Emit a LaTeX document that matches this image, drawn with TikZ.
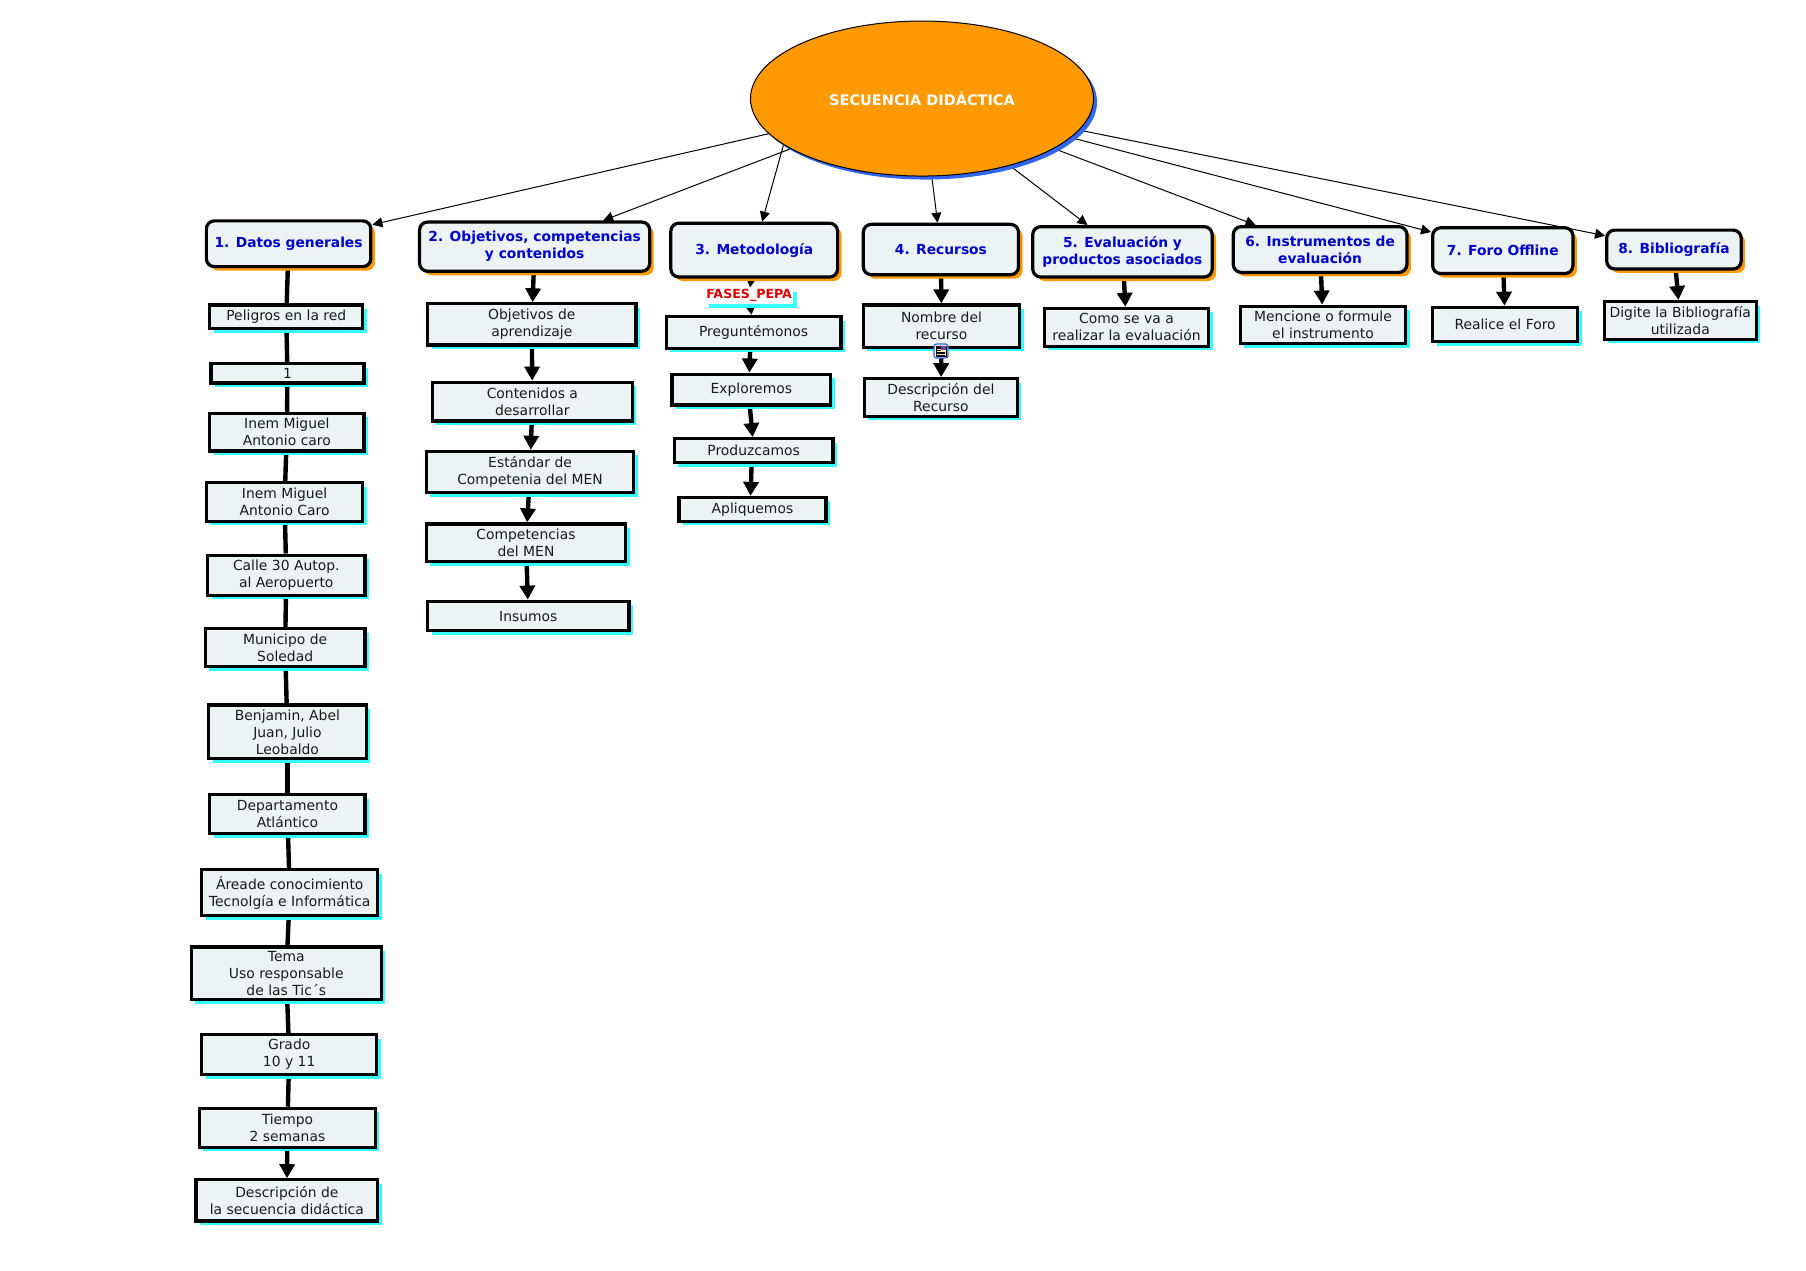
\documentclass[tikz,border=0pt]{standalone}
\usepackage{fontspec}
\setmainfont{DejaVu Sans}
\usetikzlibrary{shapes.geometric,arrows.meta,shadows}
\definecolor{boxfill}{HTML}{ECF3F5}
\definecolor{tealshadow}{HTML}{33FFFF}
\definecolor{orangeshadow}{HTML}{FF9900}
\definecolor{rootblue}{HTML}{3366EE}
\definecolor{headblue}{HTML}{0000CC}
\definecolor{redlabel}{HTML}{DD0000}
\definecolor{inktext}{HTML}{1A1A1A}
\definecolor{iconpage}{HTML}{FFF0A0}
\pgfdeclarelayer{conn}
\pgfsetlayers{conn,main}
\tikzset{
  x=1.1525pt,y=-1.1525pt,
  rootnode/.style={ellipse,draw=black,line width=1pt,fill=orangeshadow,inner sep=0pt,
    general shadow={shadow xshift=3.5pt,shadow yshift=-3.5pt,fill=rootblue},
    text=white,font=\bfseries\fontsize{14.5}{17}\selectfont,align=center},
  headnode/.style={rectangle,rounded corners=8pt,draw=black,line width=3.2pt,fill=boxfill,inner sep=0pt,
    general shadow={shadow xshift=4pt,shadow yshift=-4pt,fill=orangeshadow},
    text=headblue,font=\bfseries\fontsize{13.8}{17}\selectfont,align=center},
  leafnode/.style={rectangle,draw=black,line width=3.2pt,fill=boxfill,inner sep=0pt,
    general shadow={shadow xshift=4pt,shadow yshift=-4pt,fill=tealshadow},
    text=inktext,font=\fontsize{13.9}{17}\selectfont,align=center},
  phaselabel/.style={rectangle,fill=white,inner sep=0pt,
    general shadow={shadow xshift=3.5pt,shadow yshift=-4pt,fill=tealshadow},
    text=redlabel,font=\bfseries\fontsize{12.6}{15}\selectfont},
  thinarrow/.style={draw=black,line width=1pt,-{Triangle[length=10pt,width=10pt]}},
  fatline/.style={draw=black,line width=4.4pt},
  fatarrow/.style={draw=black,line width=4.4pt,-{Triangle[length=14pt,width=15pt]}},
}
\newcommand{\bx}[7][]{\node[#2,minimum width={(#5-#3)*1.1525pt-1.5pt},minimum height={(#6-#4)*1.1525pt-1.5pt}] (#1) at ({(#3+#5)/2-0.6},{(#4+#6)/2}) {#7};}
\begin{document}
\begin{tikzpicture}
\useasboundingbox (0,0) rectangle (1567,1102);
\node[rootnode,minimum width=343pt,minimum height=155pt] (root) at (800,85.5) {SECUENCIA DIDÁCTICA};
\coordinate (rootwest) at (680,125);
% headers
\bx[h1]{headnode}{179}{191}{323}{232}{1. Datos generales}
\bx[h2]{headnode}{364}{192}{565}{236}{2. Objetivos, competencias\\y contenidos}
\bx[h3]{headnode}{582}{193}{728}{241}{3. Metodología}
\bx[h4]{headnode}{749}{194}{885}{239}{4. Recursos}
\bx[h5]{headnode}{896}{196}{1053}{241}{5. Evaluación y\\productos asociados}
\bx[h6]{headnode}{1070}{196}{1222}{237}{6. Instrumentos de\\evaluación}
\bx[h7]{headnode}{1243}{197}{1366}{238}{7. Foro Offline}
\bx[h8]{headnode}{1394}{199}{1512}{234}{8. Bibliografía}
% column 1
\bx[a1]{leafnode}{182}{264}{316}{286}{Peligros en la red}
\bx[a2]{leafnode}{183}{315}{317}{333}{1}
\bx[a3]{leafnode}{182}{358}{317}{392}{Inem Miguel\\Antonio caro}
\bx[a4]{leafnode}{179}{418}{316}{453}{Inem Miguel\\Antonio Caro}
\bx[a5]{leafnode}{180}{481}{318}{517}{Calle 30 Autop.\\al Aeropuerto}
\bx[a6]{leafnode}{178}{545}{318}{579}{Municipo de\\Soledad}
\bx[a7]{leafnode}{181}{611}{319}{659}{Benjamin, Abel\\Juan, Julio\\Leobaldo}
\bx[a8]{leafnode}{182}{689}{318}{724}{Departamento\\Atlántico}
\bx[a9]{leafnode}{175}{754}{329}{795}{Áreade conocimiento\\Tecnolgía e Informática}
\bx[a10]{leafnode}{166}{821}{332}{868}{Tema\\Uso responsable\\de las Tic´s}
\bx[a11]{leafnode}{175}{897}{328}{933}{Grado\\10 y 11}
\bx[a12]{leafnode}{173}{961}{327}{996}{Tiempo\\2 semanas}
\bx[a13]{leafnode}{170}{1023}{329}{1060}{Descripción de\\la secuencia didáctica}
% column 2
\bx[b1]{leafnode}{371}{263}{553}{300}{Objetivos de\\aprendizaje}
\bx[b2]{leafnode}{375}{331}{550}{366}{Contenidos a\\desarrollar}
\bx[b3]{leafnode}{370}{391}{551}{428}{Estándar de\\Competenia del MEN}
\bx[b4]{leafnode}{370}{454}{544}{488}{Competencias\\del MEN}
\bx[b5]{leafnode}{371}{521}{547}{548}{Insumos}
% column 3
\node[phaselabel,minimum width=88pt,minimum height=16pt] (fases) at (650,256.6) {FASES\_PEPA};
\bx[c1]{leafnode}{578}{274}{731}{303}{Preguntémonos}
\bx[c2]{leafnode}{583}{324}{722}{352}{Exploremos}
\bx[c3]{leafnode}{585}{380}{724}{402}{Produzcamos}
\bx[c4]{leafnode}{589}{431}{718}{453}{Apliquemos}
% column 4
\bx[d1]{leafnode}{749}{264}{886}{302}{Nombre del\\recurso}
\bx[d2]{leafnode}{750}{328}{884}{362}{Descripción del\\Recurso}
% others
\bx[e1]{leafnode}{906}{267}{1050}{301}{Como se va a\\realizar la evaluación}
\bx[f1]{leafnode}{1076}{265}{1221}{299}{Mencione o formule\\el instrumento}
\bx[g1]{leafnode}{1243}{266}{1370}{297}{Realice el Foro}
\bx[k1]{leafnode}{1392}{261}{1525}{295}{Digite la Bibliografía\\utilizada}
% icon
\node[rectangle,rounded corners=2.5pt,draw=rootblue,line width=1.2pt,fill=white,minimum size=14pt,inner sep=0pt] (icon) at (816.5,304.6) {};
\fill[iconpage,draw=black,line width=.5pt] (812.3,300.2) rectangle (820.7,309);
\fill[rootblue!70!red] (816.8,300.4) rectangle (820.5,303.8);
\foreach \yy in {301,302.5,304}{\draw[black,line width=.7pt] (812.8,\yy) -- (816.2,\yy);}
\foreach \yy in {305.4,306.8,308.2}{\draw[black,line width=.7pt] (812.8,\yy) -- (820.2,\yy);}
\begin{pgfonlayer}{conn}
\foreach \t in {h1,h2,h4,h5,h6,h7,h8}{\draw[thinarrow] (root) -- (\t);}
\draw[thinarrow] (rootwest) -- (h3);
\draw[fatline] (h1) -- (a1);
\draw[fatline] (a1) -- (a2);
\draw[fatline] (a2) -- (a3);
\draw[fatline] (a3) -- (a4);
\draw[fatline] (a4) -- (a5);
\draw[fatline] (a5) -- (a6);
\draw[fatline] (a6) -- (a7);
\draw[fatline] (a7) -- (a8);
\draw[fatline] (a8) -- (a9);
\draw[fatline] (a9) -- (a10);
\draw[fatline] (a10) -- (a11);
\draw[fatline] (a11) -- (a12);
\draw[fatarrow] (a12) -- (a13);
\draw[fatarrow] (h2) -- (b1);
\draw[fatarrow] (b1) -- (b2);
\draw[fatarrow] (b2) -- (b3);
\draw[fatarrow] (b3) -- (b4);
\draw[fatarrow] (b4) -- (b5);
\draw[fatarrow] (h3) -- (fases);
\draw[fatarrow] (fases) -- (c1);
\draw[fatarrow] ([xshift=-3.5pt]c1.south) -- ([xshift=-2pt]c2.north);
\draw[fatarrow] ([xshift=-1.5pt]c2.south) -- ([xshift=-1pt]c3.north);
\draw[fatarrow] ([xshift=-2pt]c3.south) -- ([xshift=-2pt]c4.north);
\draw[fatarrow] (h4) -- (d1);
\draw[fatarrow] (d1) -- (d2);
\draw[fatarrow] (h5) -- (e1);
\draw[fatarrow] (h6) -- (f1);
\draw[fatarrow] (h7) -- (g1);
\draw[fatarrow] (h8) -- (k1);
\end{pgfonlayer}
\end{tikzpicture}
\end{document}
